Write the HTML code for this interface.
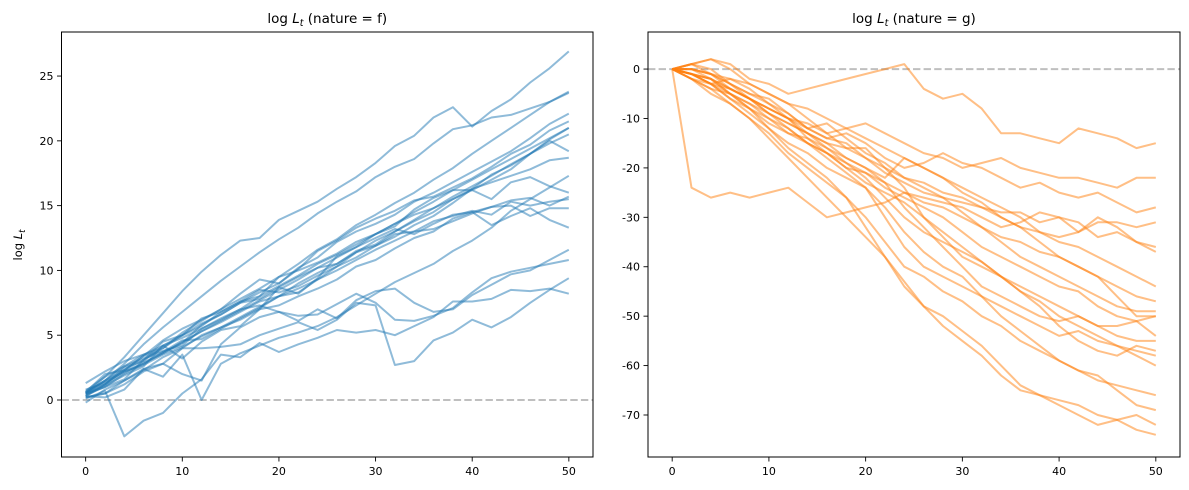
<!DOCTYPE html>
<html><head><meta charset="utf-8">
<style>
html,body{margin:0;padding:0;background:#fff;}
svg{display:block;font-family:"DejaVu Sans","Liberation Sans",sans-serif;}
</style></head>
<body>
<svg id="chart" width="1189" height="490" viewBox="0 0 1189 490" xmlns="http://www.w3.org/2000/svg">
<rect width="1189" height="490" fill="#fff"/>
</svg>
<script>
const xSteps = [0,2,4,6,8,10,12,14,16,18,20,22,24,26,28,30,32,34,36,38,40,42,44,46,48,50];
const xTicks = [0,10,20,30,40,50];
const leftYTicks = [0,5,10,15,20,25];
const rightYTicks = [0,-10,-20,-30,-40,-50,-60,-70];
const leftSeries = [
[0.5,1.8,3.3,5,6.7,8.4,9.9,11.2,12.3,12.5,13.9,14.6,15.3,16.3,17.2,18.3,19.6,20.4,21.8,22.6,21.1,22.3,23.2,24.5,25.6,26.9],
[0.6,1.5,2.8,4.3,5.6,6.8,8,9.2,10.3,11.4,12.4,13.3,14.4,15.3,16.1,17.2,18,18.6,19.8,20.9,21.2,21.8,22,22.5,23,23.8],
[0.3,1.2,2.3,3.1,4,5.2,6.1,7,7.8,8.6,9.5,10.5,11.6,12.4,13.5,14.3,15.2,16,17,17.9,19,20,21,22,23,23.7],
[0.4,1,2,2.8,3.6,4.4,5.8,6.6,7.5,8.3,9,10.2,11,12.2,13,13.6,14.3,15.3,16,16.8,17.6,18.4,19.2,20.2,21.3,22.1],
[0.6,2,2.3,3.4,4.6,5.5,6.2,7,8.2,9.3,9,10.1,11.5,12.3,13.3,14,14.6,15.4,15.7,16.4,17.1,18,19,19.7,20.8,21.5],
[1.3,2.2,3,3.5,4.2,5,5.7,6.8,7.6,8,8.8,9.6,10.5,11.2,12,12.8,13.6,14.3,14.8,15.5,16.2,17,17.8,19,20.1,21],
[0.2,0.5,1.5,2.3,3.3,4,5,5.6,6.4,7.2,8,9,9.8,10.5,11.5,12,13,13.9,14.8,15.7,16.5,17.3,18.2,19,19.8,20.5],
[0.5,1.4,2.2,2.8,3.7,4.6,4.7,5.5,6.3,7.1,8,8.3,9.3,10.3,11,11.9,12.6,13.5,14.2,15.2,16.3,17.4,18.1,19,20,19.2],
[0.7,1.8,2.6,3.5,4,5,5.9,6.6,7.5,7.8,8.7,9.5,10.2,10.5,11.4,12.3,13,13.8,14.5,15.5,16.3,16.8,17.3,17.8,18.5,18.7],
[0.4,1.2,2.5,3,4.2,4.8,5.5,6.3,7,8,9.5,10,10.6,11.3,12.2,12.8,13.4,14.7,15.6,16.2,16.2,15.5,16.8,17.2,16.5,16],
[0.8,1.3,2.2,2.7,3.5,4.1,4.9,5.6,6.2,7,7.3,8,8.6,9.3,10.3,10.8,11.7,12.5,13,14,14.5,14.9,15.4,15.6,15,15.7],
[0.5,1,1.6,3.1,4.5,5,6.3,6.8,7.6,8.5,8.3,8.8,9.6,10.3,11.4,11.9,12.8,13,13.8,14.2,14.6,14.3,15.3,15,15.3,15.5],
[0.6,1.5,2.6,3.2,3.7,4.4,5.3,6,6.8,7.6,8,8.6,9.3,10,10.8,11.6,12.3,13,13.2,13.8,14.4,14.9,15,14.2,14.8,14.8],
[0.3,1.1,1.9,2.6,4.2,3.2,4.5,5.4,5.7,7,8.7,8.2,9.4,11.1,11.8,12.5,13.2,12.8,13.6,14.3,14.5,13.5,14.2,14.8,13.9,13.3],
[0.2,0.5,1.2,2.2,2.8,2,1.5,4.3,5.6,6.4,6.8,6.1,7,6.3,7.7,8.4,8.6,7.5,6.8,7,8.1,8.9,9.7,10,10.8,11.6],
[0.5,1.5,2.3,3.4,3.8,4.2,5.5,6.2,7,7.3,6.8,6.5,6.6,7.4,8.2,7.5,6.2,6.1,6.5,7.1,8.3,9.4,9.9,10.2,10.5,10.8],
[-0.2,0.8,1.5,2.4,2.8,4,4,4.1,4.3,5,5.5,6,5.4,6.2,7.5,7.3,2.7,3,4.6,5.2,6.2,5.6,6.4,7.5,8.5,9.4],
[0.1,0.7,-2.8,-1.6,-1,0.5,1.6,3.5,3.3,4.4,3.7,4.3,4.8,5.4,5.2,5.4,5,5.7,6.4,7.6,7.6,7.8,8.5,8.4,8.6,8.2],
[0.3,0.2,0.8,2.4,1.8,3.5,0,2.8,3.6,4.2,4.8,5.2,5.7,6.4,7.3,8.2,9.1,9.8,10.5,11.5,12.3,13.3,14.6,15.5,16.4,17.3],
[0.5,1.2,2.1,2.9,3.6,4.5,5.3,6.1,6.9,7.7,8.5,9.3,10.2,11.0,11.8,12.8,13.6,14.5,15.3,16.2,17,17.8,18.6,19.4,20.2,21.0]
];
const rightSeries = [
[0,1,2,1,-2,-3,-5,-4,-3,-2,-1,0,1,-4,-6,-5,-8,-13,-13,-14,-15,-12,-13,-14,-16,-15],
[0,-1,-2,-4,-6,-8,-10,-11,-13,-12,-11,-13,-15,-17,-18,-20,-19,-18,-20,-21,-22,-22,-23,-24,-22,-22],
[0,0,-1,-3,-5,-6,-9,-12,-14,-13,-15,-18,-20,-19,-17,-19,-20,-22,-24,-23,-25,-26,-25,-27,-29,-28],
[0,1,2,0,-3,-5,-7,-10,-13,-16,-16,-20,-22,-24,-26,-27,-28,-29,-29,-31,-30,-31,-34,-33,-35,-37],
[0,-1,-3,-2,-4,-7,-9,-12,-11,-14,-17,-19,-22,-23,-25,-26,-28,-30,-32,-33,-34,-33,-30,-32,-35,-36],
[0,-24,-26,-25,-26,-25,-24,-27,-30,-29,-28,-27,-25,-26,-27,-28,-30,-32,-31,-29,-30,-33,-31,-31,-32,-31],
[0,-2,-4,-5,-8,-11,-13,-15,-17,-20,-21,-24,-26,-28,-30,-33,-36,-38,-40,-42,-44,-45,-48,-50,-51,-50],
[0,0,-1,-4,-6,-9,-11,-13,-16,-19,-22,-26,-30,-33,-35,-37,-39,-42,-44,-46,-48,-50,-52,-52,-51,-54],
[0,-1,-3,-6,-9,-12,-15,-17,-20,-22,-24,-30,-36,-40,-42,-44,-46,-48,-50,-52,-54,-53,-55,-56,-57,-58],
[0,-2,-5,-7,-10,-13,-17,-20,-23,-26,-30,-35,-40,-42,-45,-47,-50,-52,-55,-57,-59,-61,-62,-65,-68,-69],
[0,-1,-2,-5,-8,-12,-16,-19,-22,-26,-32,-38,-44,-48,-50,-53,-56,-60,-64,-66,-68,-70,-72,-71,-73,-74],
[0,-2,-4,-7,-10,-14,-18,-22,-26,-30,-34,-38,-43,-48,-52,-55,-58,-62,-65,-66,-67,-68,-70,-71,-70,-72],
[0,1,0,-3,-6,-8,-10,-12,-14,-15,-18,-20,-24,-30,-34,-38,-40,-42,-45,-48,-52,-55,-57,-58,-56,-57],
[0,-1,-3,-6,-8,-10,-13,-14,-16,-18,-20,-23,-28,-32,-36,-40,-44,-46,-48,-50,-51,-50,-52,-54,-55,-55],
[0,0,-2,-5,-7,-9,-12,-15,-18,-21,-24,-28,-33,-37,-40,-42,-46,-50,-53,-56,-59,-61,-63,-64,-65,-66],
[0,1,-1,-3,-5,-7,-10,-14,-17,-20,-23,-25,-27,-30,-33,-36,-39,-42,-45,-47,-50,-52,-54,-56,-58,-60],
[0,-1,-2,-4,-6,-9,-11,-13,-15,-16,-18,-21,-23,-25,-26,-29,-32,-35,-38,-40,-42,-44,-46,-48,-49,-49],
[0,0,-1,-2,-3,-5,-7,-8,-10,-12,-14,-16,-18,-20,-22,-24,-26,-28,-30,-33,-35,-36,-38,-40,-42,-44],
[0,-1,-3,-4,-6,-8,-10,-13,-15,-18,-20,-22,-18,-20,-22,-25,-27,-30,-32,-35,-38,-40,-42,-46,-50,-50],
[0,-2,-3,-5,-7,-10,-12,-15,-17,-19,-21,-23,-25,-27,-28,-30,-32,-34,-35,-37,-38,-40,-42,-44,-46,-47]
];

const NS = "http://www.w3.org/2000/svg";
const svg = document.getElementById('chart');
function mk(tag, attrs, parent){
  const e = document.createElementNS(NS, tag);
  for (const k in attrs) e.setAttribute(k, attrs[k]);
  (parent||svg).appendChild(e);
  return e;
}
function panel(cfg){
  const {left,right,top,bottom,xmin,xmax,ymin,ymax,series,color,yTicks,title,name} = cfg;
  const g = mk('g', {});
  
  
  const sx = v => left + (v - xmin) / (xmax - xmin) * (right - left);
  const sy = v => bottom - (v - ymin) / (ymax - ymin) * (bottom - top);
  const clipId = name + '-clip';
  const cp = mk('clipPath', {id: clipId}, g);
  mk('rect', {x:left, y:top, width:right-left, height:bottom-top}, cp);
  const zl = mk('line', {x1:left, x2:right, y1:sy(0), y2:sy(0), stroke:'#808080', 'stroke-opacity':0.5, 'stroke-width':2, 'stroke-dasharray':'7.4,3.2'}, g);
  
  
  const lg = mk('g', {'clip-path':'url(#'+clipId+')'}, g);
  series.forEach((s, i) => {
    const d = s.map((v, j) => (j ? 'L' : 'M') + sx(xSteps[j]).toFixed(1) + ',' + sy(v).toFixed(1)).join('');
    const p = mk('path', {d:d, fill:'none', stroke:color, 'stroke-opacity':0.5, 'stroke-width':2, 'stroke-linejoin':'round'}, lg);
    
    
  });
  const fr = mk('rect', {x:left, y:top, width:right-left, height:bottom-top, fill:'none', stroke:'#000', 'stroke-width':1}, g);
  
  
  xTicks.forEach(t => {
    const x = sx(t);
    mk('line', {x1:x, x2:x, y1:bottom, y2:bottom+4.5, stroke:'#000', 'stroke-width':0.9}, g);
    const tx = mk('text', {x:x, y:bottom+18, 'font-size':11, 'text-anchor':'middle', fill:'#000'}, g);
    tx.textContent = t;
    
    
  });
  yTicks.forEach(t => {
    const y = sy(t);
    mk('line', {x1:left-4.5, x2:left, y1:y, y2:y, stroke:'#000', 'stroke-width':0.9}, g);
    const tx = mk('text', {x:left-8, y:y+4, 'font-size':11, 'text-anchor':'end', fill:'#000'}, g);
    tx.textContent = t;
    
    
  });
  const tt = mk('text', {x:(left+right)/2, y:top-9, 'font-size':13.5, 'text-anchor':'middle', fill:'#000'}, g);
  tt.innerHTML = 'log <tspan font-style="italic">L</tspan><tspan font-style="italic" font-size="9.5" dy="3">t</tspan><tspan dy="-3"> (nature = ' + title + ')</tspan>';
  
  
}
panel({left:61.5, right:593, top:32, bottom:457, xmin:-2.5, xmax:52.5, ymin:-4.4, ymax:28.4, series:leftSeries, color:'#1f77b4', yTicks:leftYTicks, title:'f', name:'panel-nature-f'});
panel({left:648, right:1180, top:32, bottom:457, xmin:-2.5, xmax:52.5, ymin:-78.5, ymax:7.5, series:rightSeries, color:'#ff7f0e', yTicks:rightYTicks, title:'g', name:'panel-nature-g'});
const yl = mk('text', {x:0, y:0, 'font-size':11.5, 'text-anchor':'middle', transform:'translate(22,245) rotate(-90)', fill:'#000'});
yl.innerHTML = 'log <tspan font-style="italic">L</tspan><tspan font-style="italic" font-size="8.5" dy="3">t</tspan>';


</script>
</body></html>
